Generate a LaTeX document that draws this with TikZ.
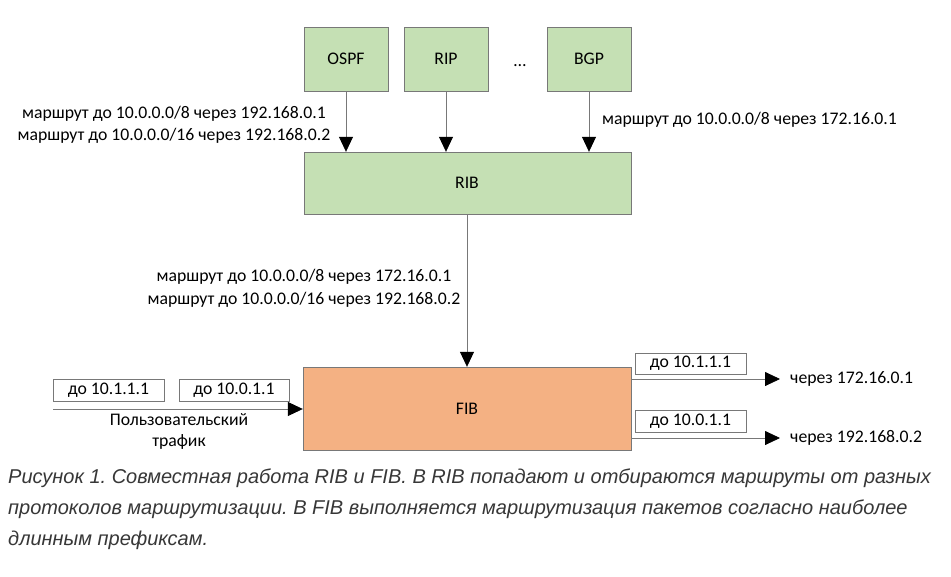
\documentclass[tikz,border=0pt]{standalone}
\usepackage{fontspec}
\setmainfont{Carlito}
\newfontfamily\capfont{Liberation Sans}
\usetikzlibrary{arrows.meta}
\frenchspacing
\definecolor{boxgreen}{RGB}{197,224,180}
\definecolor{boxorange}{RGB}{244,177,131}
\definecolor{edgegray}{RGB}{120,120,120}
\definecolor{capgray}{RGB}{55,55,55}
\tikzset{
  proto/.style={draw=edgegray,fill=boxgreen,minimum width=84pt,minimum height=64pt,inner sep=0pt,font=\fontsize{17.7}{20}\selectfont},
  big/.style={draw=edgegray,inner sep=0pt,font=\fontsize{17.7}{20}\selectfont},
  pkt/.style={draw=edgegray,fill=white,minimum width=111pt,minimum height=22pt,inner sep=0pt,font=\fontsize{17.7}{20}\selectfont},
  lbl/.style={inner sep=0pt,font=\fontsize{17.7}{20}\selectfont,align=center},
  conn/.style={draw=edgegray,line width=0.8pt,-{Triangle[length=15pt,width=14pt,fill=black,color=black]}},
  captext/.style={inner sep=0pt,anchor=base west,text=capgray,font=\capfont\itshape\fontsize{20}{24}\selectfont}
}
\begin{document}
\begin{tikzpicture}[x=1pt,y=-1pt]
\useasboundingbox[fill=white] (0,0) rectangle (951,576);
\node[proto] (ospf) at (346,59) {OSPF};
\node[proto] (rip) at (446,59) {RIP};
\node[proto] (bgp) at (589,59) {BGP};
\node[lbl,anchor=base] (dots) at (520,66) {\ldots};
\node[big,fill=boxgreen,minimum width=327pt,minimum height=62pt] (rib) at (467.5,183) {};
\node[lbl] (ribt) at (467,183) {RIB};
\node[big,fill=boxorange,minimum width=328pt,minimum height=83pt] (fib) at (467,408.5) {};
\node[lbl] (fibt) at (467,408.5) {FIB};
\draw[conn] (ospf.south) -- (ospf.south |- rib.north);
\draw[conn] (rip.south) -- (rip.south |- rib.north);
\draw[conn] (bgp.south) -- (bgp.south |- rib.north);
\draw[conn] (ribt.south |- rib.south) -- (ribt.north |- fib.north);
\node[lbl,font=\fontsize{17.7}{21.5}\selectfont] (l1) at (174,125) {маршрут до 10.0.0.0/8 через 192.168.0.1\\маршрут до 10.0.0.0/16 через 192.168.0.2};
\node[lbl,anchor=west] (l2) at (602,120) {маршрут до 10.0.0.0/8 через 172.16.0.1};
\node[lbl,font=\fontsize{17.7}{23}\selectfont] (l3) at (304,288) {маршрут до 10.0.0.0/8 через 172.16.0.1\\маршрут до 10.0.0.0/16 через 192.168.0.2};
\coordinate (in) at (53,409);
\draw[conn] (in) -- (fib.west |- in);
\node[pkt] (p1) at (108.5,390) {до 10.1.1.1};
\node[pkt,minimum width=110pt] (p2) at (234,390) {до 10.0.1.1};
\node[lbl,font=\fontsize{17.7}{21}\selectfont] (user) at (179,431) {Пользовательский\\трафик};
\coordinate (o1) at (780,379);
\coordinate (o2) at (780,438);
\draw[conn] (fib.east |- o1) -- (o1);
\draw[conn] (fib.east |- o2) -- (o2);
\node[pkt,minimum height=21pt] (q1) at (690.5,363.5) {до 10.1.1.1};
\node[pkt] (q2) at (690.5,421) {до 10.0.1.1};
\node[lbl,anchor=west] (v1) at (790,379) {через 172.16.0.1};
\node[lbl,anchor=west] (v2) at (790,438) {через 192.168.0.2};
\node[captext] (c1) at (8,483) {Рисунок 1. Совместная работа RIB и FIB. В RIB попадают и отбираются маршруты от разных};
\node[captext] (c2) at (8,514) {протоколов маршрутизации. В FIB выполняется маршрутизация пакетов согласно наиболее};
\node[captext] (c3) at (8,545) {длинным префиксам.};
\end{tikzpicture}
\end{document}
